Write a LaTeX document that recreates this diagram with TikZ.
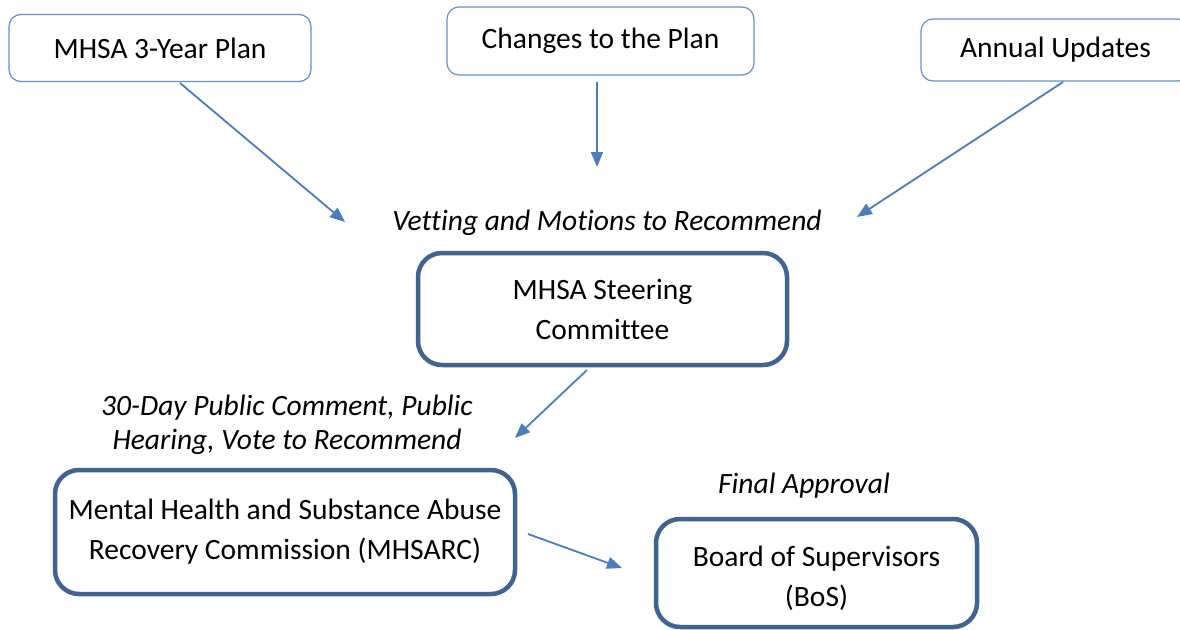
\documentclass[tikz,border=0pt]{standalone}
\usepackage{fontspec}
\setmainfont{Carlito}[Ligatures=NoCommon]
\usetikzlibrary{arrows.meta,calc}
\definecolor{thinblue}{RGB}{100,145,205}
\definecolor{thickblue}{RGB}{65,99,143}
\definecolor{arrowblue}{RGB}{74,126,187}
\tikzset{
  topbox/.style={draw=thinblue, line width=1.2pt, rounded corners=12pt, fill=white, inner sep=0pt, align=center, font=\fontsize{29.5}{40}\selectfont},
  mainbox/.style={draw=thickblue, line width=4.5pt, rounded corners=24pt, fill=white, inner sep=0pt, align=center, font=\fontsize{29.5}{40}\selectfont},
  plaintext/.style={inner sep=0pt, align=center, font=\fontsize{29.5}{40}\selectfont},
  lbl/.style={inner sep=0pt, align=center, font=\fontsize{29.5}{34.5}\selectfont\itshape},
  flow/.style={draw=arrowblue, line width=1.8pt, -{Triangle[length=15pt,width=12pt]}}
}
\begin{document}
\begin{tikzpicture}[x=1pt,y=-1pt]
\useasboundingbox (0,0) rectangle (1180,629);
\clip (0,0) rectangle (1180,629);
% top boxes
\node[topbox, minimum width=302pt, minimum height=67pt] (plan) at (160,48) {MHSA 3-Year Plan};
\node[topbox, minimum width=307pt, minimum height=68pt] (changes) at (600.5,41) {Changes to the Plan};
\node[topbox, minimum width=269pt, minimum height=62pt] (annual) at (1055.5,50) {Annual Updates};
% labels
\node[lbl] (vet) at (607,223) {Vetting and Motions to Recommend};
\node[lbl] (pub) at (287,425) {30-Day Public Comment, Public\\Hearing, Vote to Recommend};
\node[lbl] (final) at (804,486) {Final Approval};
% main boxes
\node[mainbox, minimum width=369pt, minimum height=112pt] (steer) at (602.5,309) {MHSA Steering\\Committee};
\node[mainbox, minimum width=460pt, minimum height=124pt] (mhsarc) at (285,532) {Mental Health and Substance Abuse\\Recovery Commission (MHSARC)};
\node[mainbox, minimum width=321pt, minimum height=108pt] (bos) at (816.5,573) {};
\node[plaintext] (bostext) at (816.5,578) {Board of Supervisors\\(BoS)};
% connector end points
\coordinate (p1s) at (180,83);
\coordinate (p1e) at (345,222);
\coordinate (p2s) at (597,82);
\coordinate (p2e) at (597,167);
\coordinate (p3s) at (1063,82);
\coordinate (p3e) at (857,217);
\coordinate (p4s) at (587,370);
\coordinate (p4e) at (515,438);
\coordinate (p5s) at (528,534);
\coordinate (p5e) at (622,568);
% connectors
\draw[flow] (p1s) -- (p1e);
\draw[flow] (p2s) -- (p2e);
\draw[flow] (p3s) -- (p3e);
\draw[flow] (p4s) -- (p4e);
\draw[flow] (p5s) -- (p5e);
\end{tikzpicture}
\end{document}
